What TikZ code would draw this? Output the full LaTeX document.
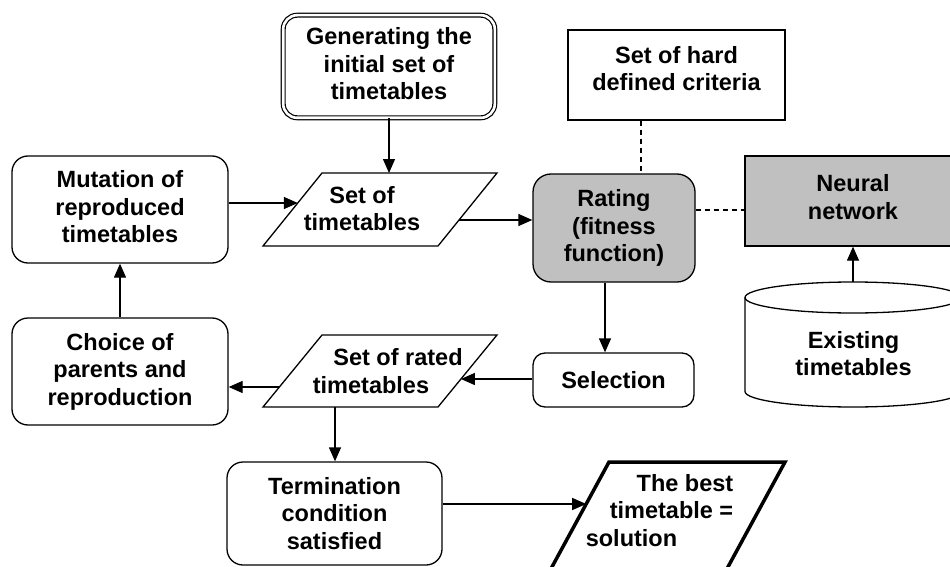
\documentclass[tikz,border=0pt]{standalone}
\usepackage{fontspec}
\setmainfont{Liberation Sans}
\usetikzlibrary{arrows.meta}
\definecolor{silver}{RGB}{192,192,192}
\newcommand{\shiftln}[2]{\makebox[0pt]{\hspace*{#1}#2\hspace*{-#1}}}
\newcommand{\lowdepth}[1]{\rule[-#1]{0pt}{#1}}
\begin{document}
\begin{tikzpicture}[x=1pt,y=-1pt,
  txt/.style={font=\fontsize{23.5}{27.5}\selectfont\bfseries, align=center, inner sep=0pt},
  rbox/.style={txt, draw, line width=1.3pt, rounded corners=16pt},
  sbox/.style={txt, draw, line width=1.3pt},
  arr/.style={line width=1.3pt, -{Triangle[length=14pt,width=12pt]}},
  dsh/.style={line width=1.3pt, dash pattern=on 5pt off 4pt},
  lin/.style={line width=1.3pt, line join=miter}]
\useasboundingbox (0,0) rectangle (950,567);
\clip (0,0) rectangle (950,567);
\fill[white] (0,0) rectangle (950,567);

% boxes
\node[rbox, double, double distance=2.6pt, line width=1.2pt, rounded corners=14pt,
      minimum width=211.6pt, minimum height=102.6pt] (gen) at (389,66.5)
      {Generating the\\initial set of\\timetables\lowdepth{6pt}};
\node[sbox, minimum width=217pt, minimum height=90pt] (crit) at (676.5,75)
      {Set of hard\\defined criteria\lowdepth{13pt}};
\node[rbox, fill=silver, rounded corners=18pt, minimum width=162pt, minimum height=108pt] (rate) at (614,228)
      {Rating\\(fitness\\function)};
\node[sbox, fill=silver, minimum width=216pt, minimum height=90pt] (nn) at (853,201)
      {Neural\\network\lowdepth{8pt}};
\node[rbox, minimum width=216pt, minimum height=107pt] (mut) at (120,209.5)
      {Mutation of\\reproduced\\timetables\lowdepth{6pt}};
\node[rbox, minimum width=216pt, minimum height=107pt] (choice) at (120,371.5)
      {Choice of\\parents and\\reproduction};
\node[rbox, rounded corners=12pt, minimum width=161pt, minimum height=54pt] (sel) at (613.5,380)
      {Selection};
\node[rbox, minimum width=215pt, minimum height=103pt] (term) at (334.5,513.5)
      {Termination\\condition\\satisfied};

% parallelogram: set of timetables
\coordinate (sTL) at (322,173);
\coordinate (sTR) at (497,173);
\coordinate (sBR) at (438,246);
\coordinate (sBL) at (263,246);
\draw[lin] (sTL) -- (sTR) -- (sBR) -- (sBL) -- cycle;
\node[txt] (settxt) at (362,208.5) {Set of\\timetables};
\coordinate (setTop) at (389,173);
\coordinate (setL) at (297.8,203);
\coordinate (setR) at (459,220);

% parallelogram: set of rated timetables
\coordinate (rTL) at (322,335);
\coordinate (rTR) at (497,335);
\coordinate (rBR) at (438,407);
\coordinate (rBL) at (263,407);
\draw[lin] (rTL) -- (rTR) -- (rBR) -- (rBL) -- cycle;
\node[txt] (ratedtxt) at (384.5,371) {\shiftln{13.5pt}{Set of rated}\\\shiftln{-13.5pt}{timetables}};
\coordinate (ratedR) at (460.9,379);
\coordinate (ratedL) at (279.4,387);
\coordinate (ratedB) at (335,407);

% parallelogram: best timetable
\coordinate (bTL) at (609,462);
\coordinate (bTR) at (785,462);
\coordinate (bBR) at (710,600);
\coordinate (bBL) at (534,600);
\draw[line width=3.5pt, line join=miter] (bBL) -- (bTL) -- (bTR) -- (bBR);
\node[txt] (besttxt) at (671.5,510.5) {\shiftln{13.5pt}{The best}\\timetable =\\\shiftln{-40pt}{solution}};
\coordinate (bestL) at (586.2,504);

% cylinder
\draw[lin] (745,297.5) -- (745,391.5) arc[start angle=180,end angle=360,x radius=108pt,y radius=15.5pt] -- (961,297.5);
\draw[lin] (853,297.5) ellipse[x radius=108pt, y radius=15.5pt];
\coordinate (cylTop) at (853,282);
\node[txt] (exist) at (853.5,353.5) {Existing\\timetables};

% connectors
\coordinate (selN) at ([xshift=-8.5pt]sel.north);
\coordinate (dx) at (641,0);
\coordinate (dy) at (0,210);
\draw[arr] (gen.south) -- (setTop);
\draw[arr] (mut.east |- setL) -- (setL);
\draw[arr] (setR) -- (rate.west |- setR);
\draw[arr] (rate.south -| selN) -- (selN);
\draw[arr] (sel.west |- ratedR) -- (ratedR);
\draw[arr] (ratedL) -- (choice.east |- ratedL);
\draw[arr] (choice.north) -- (mut.south);
\draw[arr] (ratedB) -- (ratedB |- term.north);
\draw[arr] (term.east |- bestL) -- (bestL);
\draw[arr] (cylTop) -- (nn.south);
\draw[dsh] (crit.south -| dx) -- (rate.north -| dx);
\draw[dsh] (rate.east |- dy) -- (nn.west |- dy);
\end{tikzpicture}
\end{document}
